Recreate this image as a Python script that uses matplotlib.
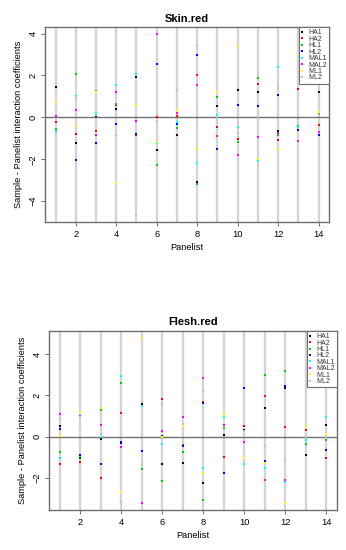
import matplotlib
matplotlib.use("Agg")
import matplotlib.pyplot as plt
import numpy as np

plt.rcParams['font.family'] = ['Liberation Sans', 'DejaVu Sans']

panelists = np.arange(1, 15)
samples = ['HA1', 'HA2', 'HL1', 'HL2', 'MAL1', 'MAL2', 'ML1', 'ML2']
# R default palette (black, red, green3, blue, cyan, magenta, yellow, gray)
colours = ['#000000', '#FF0000', '#00CD00', '#0000FF', '#00FFFF', '#FF00FF', '#FFFF00', '#BEBEBE']

# Skin.red interaction coefficients, one list per sample (panelists 1..14)
skin_HA1 = [1.43, -1.20, 0.05, 0.40, 1.91, -1.54, -0.84, -3.07, 0.56, 1.29, 1.19, -0.63, 1.37, 1.20]
skin_HA2 = [-0.24, -0.80, -0.67, 0.61, -0.85, 0.02, 0.05, 2.04, -0.45, -1.04, 1.59, -1.08, 1.37, -0.34]
skin_HL1 = [-0.56, 2.07, 1.25, 0.64, 2.05, -2.27, -0.50, -3.16, 0.98, -1.19, 1.88, -0.85, -0.42, 0.22]
skin_HL2 = [0.08, -2.04, -1.24, -0.32, -0.79, 2.55, -0.32, 2.96, -1.53, 0.61, 0.53, 1.09, -0.59, -0.85]
skin_MAL1 = [-0.63, 1.01, 0.22, 1.56, 2.07, -1.22, -0.21, -2.17, 0.10, -0.45, -2.10, 2.41, -0.45, 0.11]
skin_MAL2 = [0.05, 0.37, -0.84, 1.19, -0.16, 3.96, 0.22, 1.54, -0.88, -1.82, -0.92, -0.76, -1.14, -0.72]
skin_ML1 = [0.72, -0.40, 1.20, -3.12, 0.58, -1.17, 0.34, -1.49, 1.19, 3.42, -2.01, -1.49, -0.10, 0.27]
skin_ML2 = [-0.75, 0.99, 0.11, -0.85, -4.66, -0.18, 1.29, 3.42, 0.02, -0.76, -0.05, 1.41, -0.10, 0.10]

# Flesh.red interaction coefficients
flesh_HA1 = [0.51, -1.04, -0.12, -0.31, 1.60, -1.31, -1.25, -2.22, 0.10, 0.35, 1.38, 2.38, -0.86, 0.56]
flesh_HA2 = [-1.30, -1.23, -1.98, 1.15, -1.30, 1.81, -0.38, 1.67, -0.99, 0.54, 1.98, 0.49, 0.33, -1.01]
flesh_HL1 = [-0.72, -1.00, 1.28, 2.62, -1.54, -2.12, -0.73, -3.05, 0.44, -1.04, 2.99, 3.17, -0.36, -0.17]
flesh_HL2 = [0.36, -0.86, -1.33, -0.25, -0.70, 0.06, -0.43, 1.64, -1.77, 2.36, -1.15, 2.48, 0.00, -0.64]
flesh_MAL1 = [-1.01, 0.95, 0.01, 2.96, 1.47, -0.36, 0.56, -1.49, 0.98, -1.33, -1.51, -2.19, -0.15, 0.98]
flesh_MAL2 = [1.09, 1.00, 0.59, -0.48, -3.19, 0.27, 0.98, 2.86, 0.59, -0.23, -2.10, -2.07, 0.52, 0.15]
flesh_ML1 = [0.06, 1.20, 1.38, -2.65, 4.80, -0.02, 0.52, -1.77, 1.10, -1.01, -1.25, -3.22, 0.52, 0.15]
flesh_ML2 = [0.88, 0.97, 0.12, -3.14, -1.33, 1.59, 0.62, 2.24, -0.56, 0.30, -0.44, -1.12, 0.00, -0.05]

skin = [skin_HA1, skin_HA2, skin_HL1, skin_HL2, skin_MAL1, skin_MAL2, skin_ML1, skin_ML2]
flesh = [flesh_HA1, flesh_HA2, flesh_HL1, flesh_HL2, flesh_MAL1, flesh_MAL2, flesh_ML1, flesh_ML2]

AX_COL = '#6e6e6e'
FS = 6.7


def panel(ax, data, title, yticks):
    for p in panelists:
        ax.axvline(p, color='#d4d4d4', lw=1.7, zorder=1)
    ax.axhline(0, color='#707070', lw=1.0, zorder=2)
    for vals, name, col in zip(data, samples, colours):
        ax.plot(panelists, vals, ls='none', marker='s', ms=2.1, mew=0,
                color=col, label=name, zorder=3)
    allv = np.concatenate(data)
    lo, hi = allv.min(), allv.max()
    ext = 0.04 * (hi - lo)
    ax.set_ylim(lo - ext, hi + ext)
    ax.set_xlim(1 - 0.04 * 13, 14 + 0.04 * 13)
    ax.set_xticks(np.arange(2, 15, 2))
    ax.set_yticks(yticks)
    ax.set_title(title, fontsize=8, fontweight='bold', pad=4)
    ax.set_xlabel('Panelist', fontsize=FS, labelpad=3)
    ax.set_ylabel('Sample - Panelist interaction coefficients', fontsize=FS, labelpad=4)
    ax.tick_params(length=3, width=0.7, color=AX_COL, labelsize=FS, pad=2.5)
    for lab in ax.get_yticklabels():
        lab.set_rotation(90)
        lab.set_va('center')
    for s in ax.spines.values():
        s.set_color(AX_COL)
        s.set_linewidth(1.0)
    leg = ax.legend(loc='upper right', fontsize=5.0, labelspacing=-0.08,
                    handlelength=0.5, handletextpad=0.6, borderpad=0.3,
                    borderaxespad=0.0, fancybox=False, framealpha=1,
                    edgecolor=AX_COL, markerscale=0.9)
    leg.get_frame().set_linewidth(0.8)
    for t in leg.get_texts():
        t.set_color('#333333')


fig = plt.figure(figsize=(3.46, 5.5), dpi=100)
ax1 = fig.add_axes([0.130, 0.596, 0.821, 0.3545])
ax2 = fig.add_axes([0.1416, 0.0727, 0.8324, 0.3255])
panel(ax1, skin, 'Skin.red', [-4, -2, 0, 2, 4])
panel(ax2, flesh, 'Flesh.red', [-2, 0, 2, 4])

fig.savefig('out.png', dpi=100, facecolor='white')
